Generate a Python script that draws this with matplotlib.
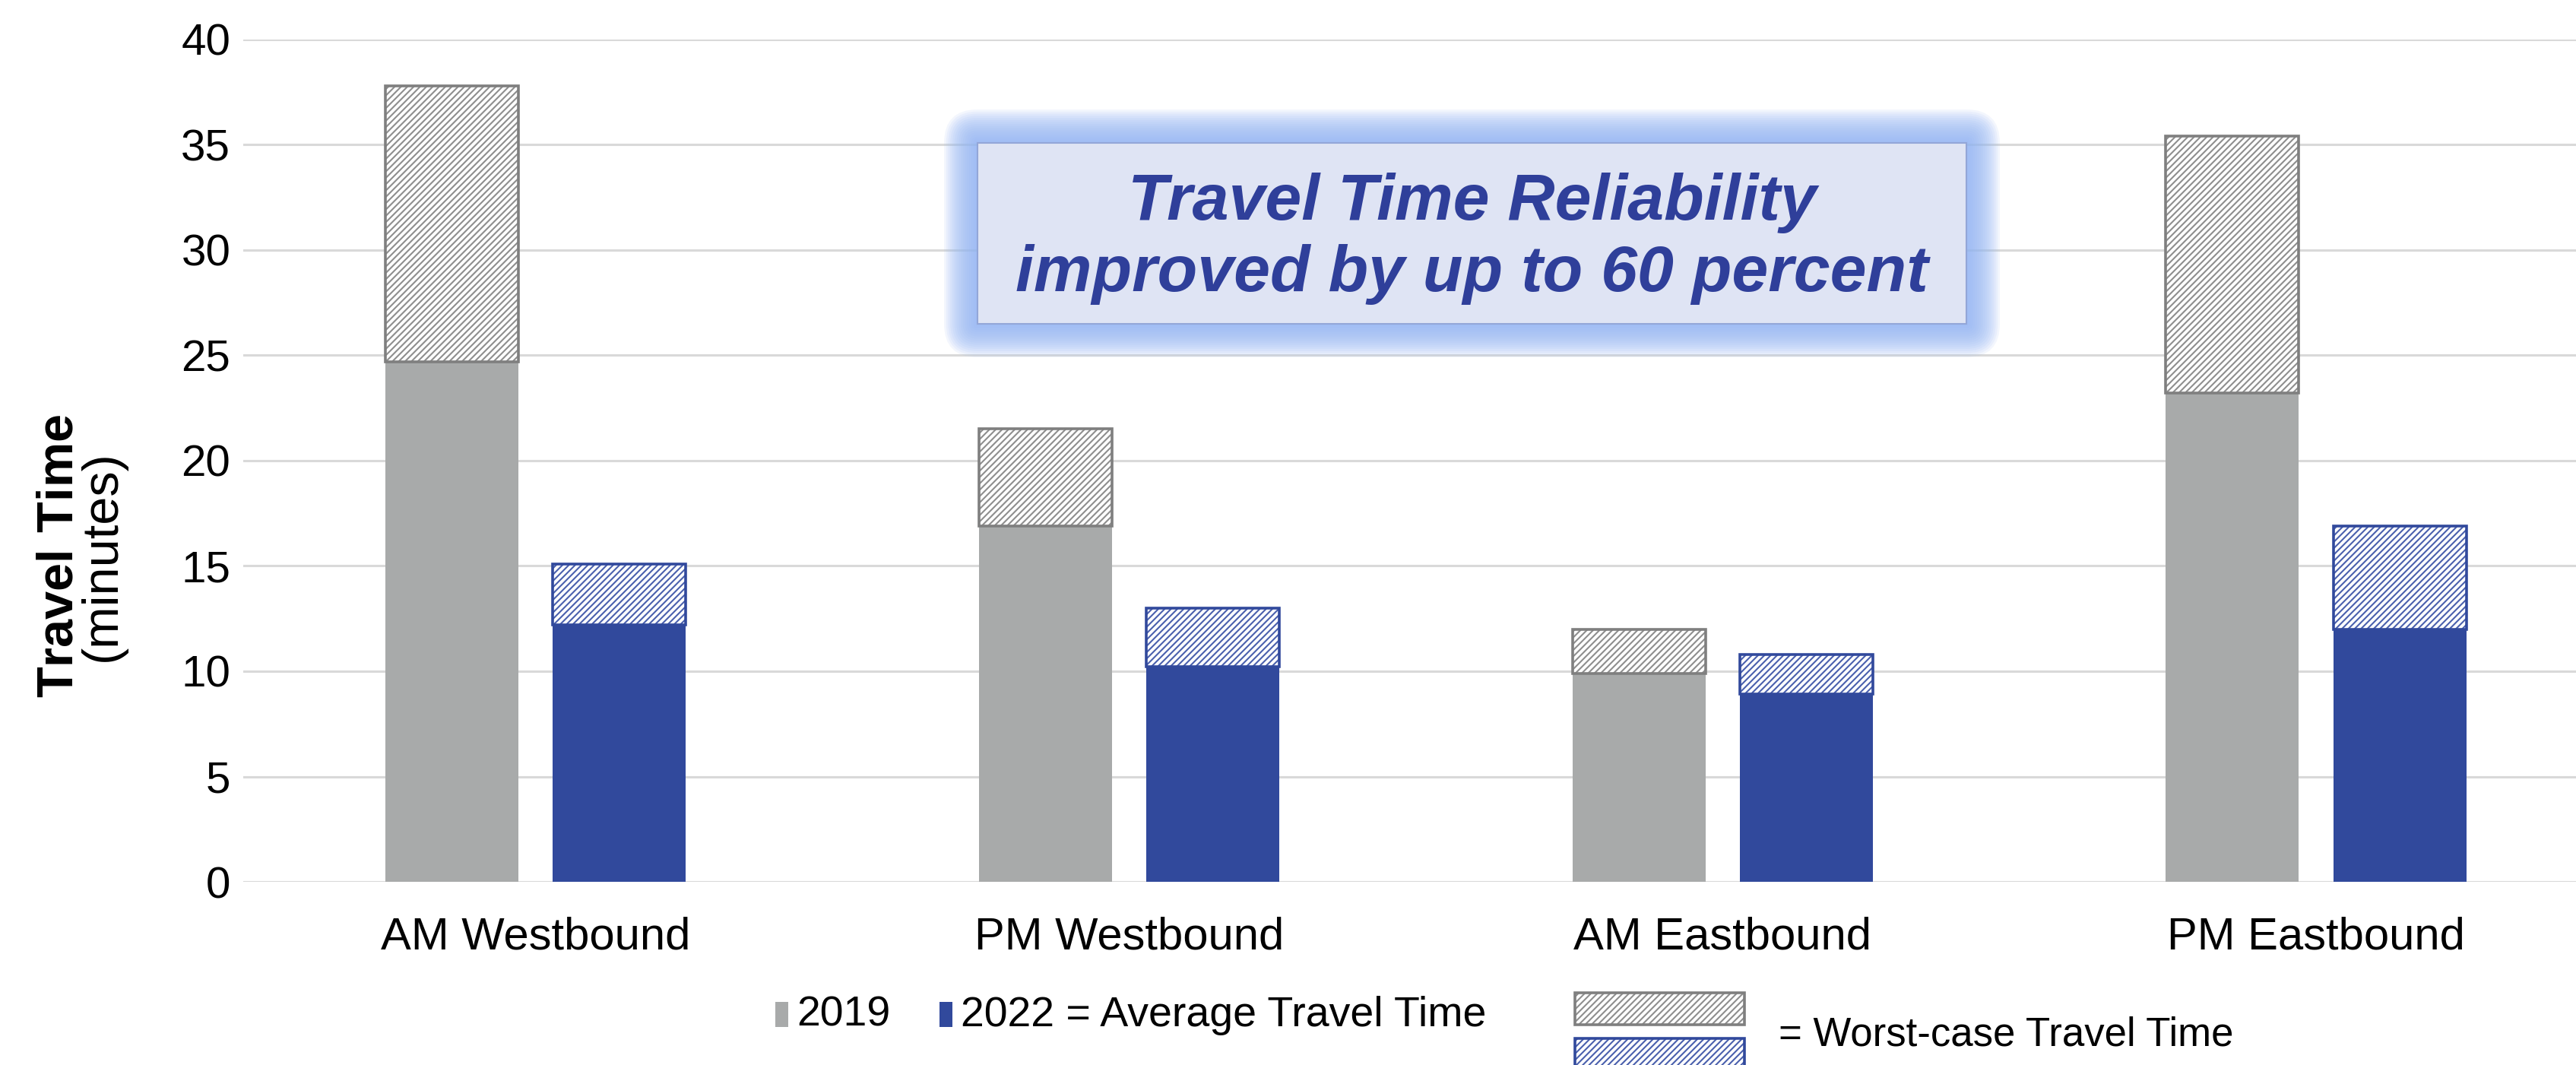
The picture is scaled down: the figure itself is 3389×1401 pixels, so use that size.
import matplotlib
matplotlib.use("Agg")
import matplotlib.pyplot as plt
import matplotlib.patches as mpatches
import numpy as np

# data (minutes)
categories = ["AM Westbound", "PM Westbound", "AM Eastbound", "PM Eastbound"]
avg_2019 = [24.7, 16.9, 9.9, 23.2]
worst_2019 = [37.8, 21.5, 12.0, 35.4]
avg_2022 = [12.2, 10.2, 8.9, 12.0]
worst_2022 = [15.1, 13.0, 10.8, 16.9]

GRAY = "#a8aaaa"
GRAY_EDGE = "#7f7f7f"
GRAY_HATCH = "#8e8e8e"
BLUE = "#31499c"
BLUE_HATCH = "#4a60ad"
TXT_BLUE = "#2f3f9a"

W, H = 3389, 1401

plt.rcParams["font.family"] = ["Liberation Sans", "DejaVu Sans"]
plt.rcParams["mathtext.fontset"] = "custom"
plt.rcParams["mathtext.rm"] = "Liberation Sans"
plt.rcParams["mathtext.bf"] = "Liberation Sans:bold"
plt.rcParams["hatch.linewidth"] = 1.5

fig = plt.figure(figsize=(W / 100, H / 100), dpi=100)
ax = fig.add_axes([0.0944, 0.172, 0.9056, 0.791])

x = np.arange(len(categories))
w = 0.224
off = 0.141


def draw_bars(xpos, avg, worst, fill, hatch_col, edge):
    avg = np.array(avg)
    worst = np.array(worst)
    ax.bar(xpos, avg, w, color=fill, linewidth=0, zorder=3)
    # worst-case part: hatched on white, then a border on top
    ax.bar(xpos, worst - avg, w, bottom=avg, facecolor="white",
           edgecolor=hatch_col, hatch="////", linewidth=0, zorder=3)
    ax.bar(xpos, worst - avg, w, bottom=avg, facecolor="none",
           edgecolor=edge, linewidth=2.6, zorder=4)


draw_bars(x - off, avg_2019, worst_2019, GRAY, GRAY_HATCH, GRAY_EDGE)
draw_bars(x + off, avg_2022, worst_2022, BLUE, BLUE_HATCH, BLUE)

ax.set_ylim(0, 40)
ax.set_xlim(-0.4926, 3.438)
ax.set_yticks(np.arange(0, 41, 5))
ax.set_xticks(x)
ax.set_xticklabels(categories, fontsize=43)
ax.tick_params(axis="y", length=0, pad=12, labelsize=42)
ax.tick_params(axis="x", length=0, pad=33)
ax.grid(axis="y", color="#d9d9d9", linewidth=2.2, zorder=0)
ax.set_axisbelow(True)
for s in ax.spines.values():
    s.set_visible(False)

# y label: bold first line, plain second line, in one text
fig.text(0.0315, 0.478, "$\\mathbf{Travel\\ Time}$\n(minutes)", rotation=90,
         fontsize=48, ha="center", va="center", multialignment="center",
         linespacing=0.9)

# callout box with a soft blue glow
bx0, by0 = 1286 / W, 1 - 426 / H
bw, bh = (2587 - 1286) / W, (426 - 188) / H
n_glow = 16
for i in range(n_glow):
    pad = 44 / W * (n_glow - i) / n_glow
    glow = mpatches.FancyBboxPatch((bx0, by0), bw, bh,
                                   boxstyle=f"round,pad={pad},rounding_size={pad}",
                                   mutation_aspect=W / H,
                                   transform=fig.transFigure,
                                   facecolor="#94b6f4", edgecolor="none",
                                   alpha=0.11, zorder=5)
    fig.add_artist(glow)
box = mpatches.Rectangle((bx0, by0), bw, bh, transform=fig.transFigure,
                         facecolor="#dfe4f4", edgecolor="#93a6d8",
                         linewidth=1.5, zorder=6)
fig.add_artist(box)
fig.text(bx0 + bw / 2, by0 + bh / 2 - 0.005,
         "Travel Time Reliability\nimproved by up to 60 percent",
         ha="center", va="center", fontsize=62, fontweight="bold",
         fontstyle="italic", color=TXT_BLUE, linespacing=1.22, zorder=7)

# legend drawn by hand at the bottom
def fig_rect(px0, py0, px1, py1, **kw):
    r = mpatches.Rectangle((px0 / W, 1 - py1 / H),
                           (px1 - px0) / W, (py1 - py0) / H,
                           transform=fig.transFigure, **kw)
    fig.add_artist(r)

fig_rect(1020, 1318, 1037, 1351, facecolor=GRAY, edgecolor="none")
fig.text(1048 / W, 1 - 1336 / H, "2019", fontsize=40, va="center")
fig_rect(1236, 1318, 1253, 1351, facecolor=BLUE, edgecolor="none")
fig.text(1264 / W, 1 - 1336 / H, "2022 = Average Travel Time",
         fontsize=40, va="center")

fig_rect(2072, 1306, 2295, 1348, facecolor="white", edgecolor=GRAY_HATCH,
         hatch="////", linewidth=0)
fig_rect(2072, 1306, 2295, 1348, facecolor="none", edgecolor=GRAY_EDGE,
         linewidth=2.6)
fig_rect(2072, 1366, 2295, 1408, facecolor="white", edgecolor=BLUE_HATCH,
         hatch="////", linewidth=0)
fig_rect(2072, 1366, 2295, 1408, facecolor="none", edgecolor=BLUE,
         linewidth=2.6)
fig.text(2340 / W, 1 - 1361 / H, "= Worst-case Travel Time",
         fontsize=38, va="center")

fig.savefig("out.png", dpi=100, facecolor="white")
